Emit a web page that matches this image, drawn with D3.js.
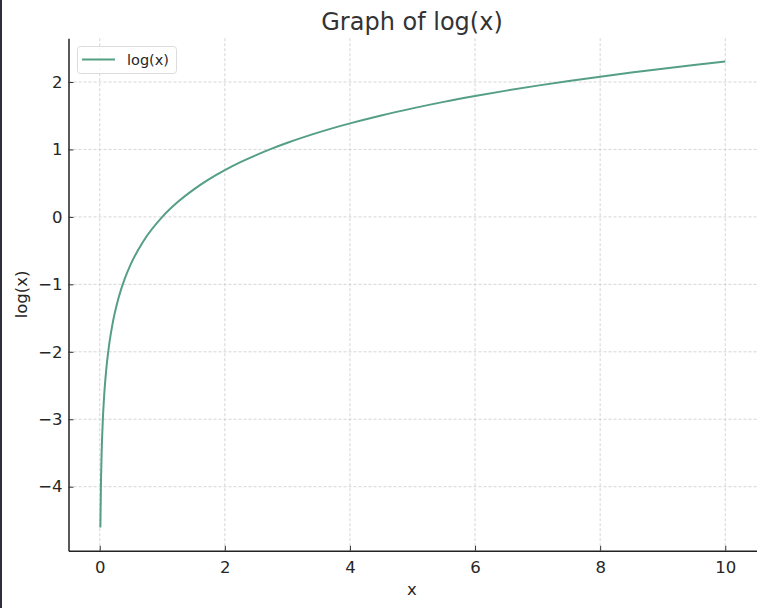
<!DOCTYPE html>
<html>
<head>
<meta charset="utf-8">
<script src="https://cdn.jsdelivr.net/npm/d3@7"></script>
<style>
  body { margin: 0; background: #fff; }
  svg { display: block; font-family: "DejaVu Sans", sans-serif; }
</style>
</head>
<body>
<div id="chart"></div>
<script>
var w = 767;
var h = 608;

// values
var xValues = [0.01, 0.02, 0.03, 0.05, 0.07, 0.1, 0.15, 0.2, 0.3, 0.4, 0.5, 0.7, 1, 1.25, 1.5, 1.75, 2, 2.25, 2.5, 2.75, 3, 3.5, 4, 4.5, 5, 5.5, 6, 6.5, 7, 7.5, 8, 8.5, 9, 9.5, 10];
var yValues = [-4.605, -3.912, -3.507, -2.996, -2.659, -2.303, -1.897, -1.609, -1.204, -0.916, -0.693, -0.357, 0, 0.223, 0.405, 0.560, 0.693, 0.811, 0.916, 1.012, 1.099, 1.253, 1.386, 1.504, 1.609, 1.705, 1.792, 1.872, 1.946, 2.015, 2.079, 2.140, 2.197, 2.251, 2.303];
var xTicks = [0, 2, 4, 6, 8, 10];
var yTicks = [-4, -3, -2, -1, 0, 1, 2];
var seriesName = "log(x)";

// plot area edges (window.top is reserved, so use other names)
var plotLeft = 68.5, plotRight = 756.5, plotTop = 38.2, plotBottom = 550.8;
var lineColor = "#559f84";

var svg = d3.select("#chart").append("svg")
    .attr("width", w)
    .attr("height", h);

// dark frame edge on the left of the screenshot
svg.append("rect").attr("x", 0).attr("y", 0).attr("width", 2).attr("height", h).attr("fill", "#2c2f3b");

var x = d3.scaleLinear().domain([-0.4995, 10.4995]).range([plotLeft, plotRight]);
var y = d3.scaleLinear().domain([-4.95, 2.649]).range([plotBottom, plotTop]);

// grid
var grid = svg.append("g").attr("stroke", "#cacaca").attr("stroke-width", 0.8).attr("stroke-dasharray", "3,2");
grid.selectAll("line.vx").data(xTicks).enter().append("line")
    .attr("x1", d => x(d)).attr("x2", d => x(d))
    .attr("y1", plotTop).attr("y2", plotBottom);
grid.selectAll("line.hy").data(yTicks).enter().append("line")
    .attr("x1", plotLeft).attr("x2", plotRight)
    .attr("y1", d => y(d)).attr("y2", d => y(d));

// axes (ticks pointing inward like the reference)
var xAxis = svg.append("g")
    .attr("transform", "translate(0," + plotBottom + ")")
    .call(d3.axisBottom(x).tickValues(xTicks).tickSizeInner(-5).tickSizeOuter(0).tickPadding(10));
var yAxis = svg.append("g")
    .attr("transform", "translate(" + plotLeft + ",0)")
    .call(d3.axisLeft(y).tickValues(yTicks).tickSizeInner(-5).tickSizeOuter(0).tickPadding(6)
        .tickFormat(d => d < 0 ? "\u2212" + Math.abs(d) : d));

[xAxis, yAxis].forEach(function (g) {
    g.select(".domain").attr("stroke", "#222").attr("stroke-width", 1.5);
    g.selectAll(".tick line").attr("stroke", "#333").attr("stroke-width", 1);
    g.selectAll(".tick text").attr("fill", "#262626").attr("font-size", 16.5)
        .attr("font-family", "DejaVu Sans, sans-serif");
});

// curve
var line = d3.line()
    .x(d => x(d[0]))
    .y(d => y(d[1]))
    .curve(d3.curveMonotoneX);

svg.append("path")
    .datum(xValues.map((v, i) => [v, yValues[i]]))
    .attr("fill", "none")
    .attr("stroke", lineColor)
    .attr("stroke-width", 2)
    .attr("d", line);

// title and labels
svg.append("text").attr("x", 412).attr("y", 30).attr("text-anchor", "middle")
    .attr("font-size", 24).attr("fill", "#333").text("Graph of log(x)");
svg.append("text").attr("x", 412).attr("y", 595).attr("text-anchor", "middle")
    .attr("font-size", 16.5).attr("fill", "#262626").text("x");
svg.append("text").attr("transform", "translate(27," + y(-1.15) + ") rotate(-90)")
    .attr("text-anchor", "middle")
    .attr("font-size", 16.5).attr("fill", "#262626").text("log(x)");

// legend
var lg = svg.append("g");
lg.append("rect").attr("x", 77.5).attr("y", 46.5).attr("width", 99).attr("height", 27).attr("rx", 3)
    .attr("fill", "#fff").attr("fill-opacity", 0.8).attr("stroke", "#dcdcdc");
lg.append("line").attr("x1", 82).attr("x2", 115).attr("y1", 59.5).attr("y2", 59.5)
    .attr("stroke", lineColor).attr("stroke-width", 2);
lg.append("text").attr("x", 127).attr("y", 65).attr("font-size", 14.5).attr("fill", "#262626").text(seriesName);
</script>
</body>
</html>
